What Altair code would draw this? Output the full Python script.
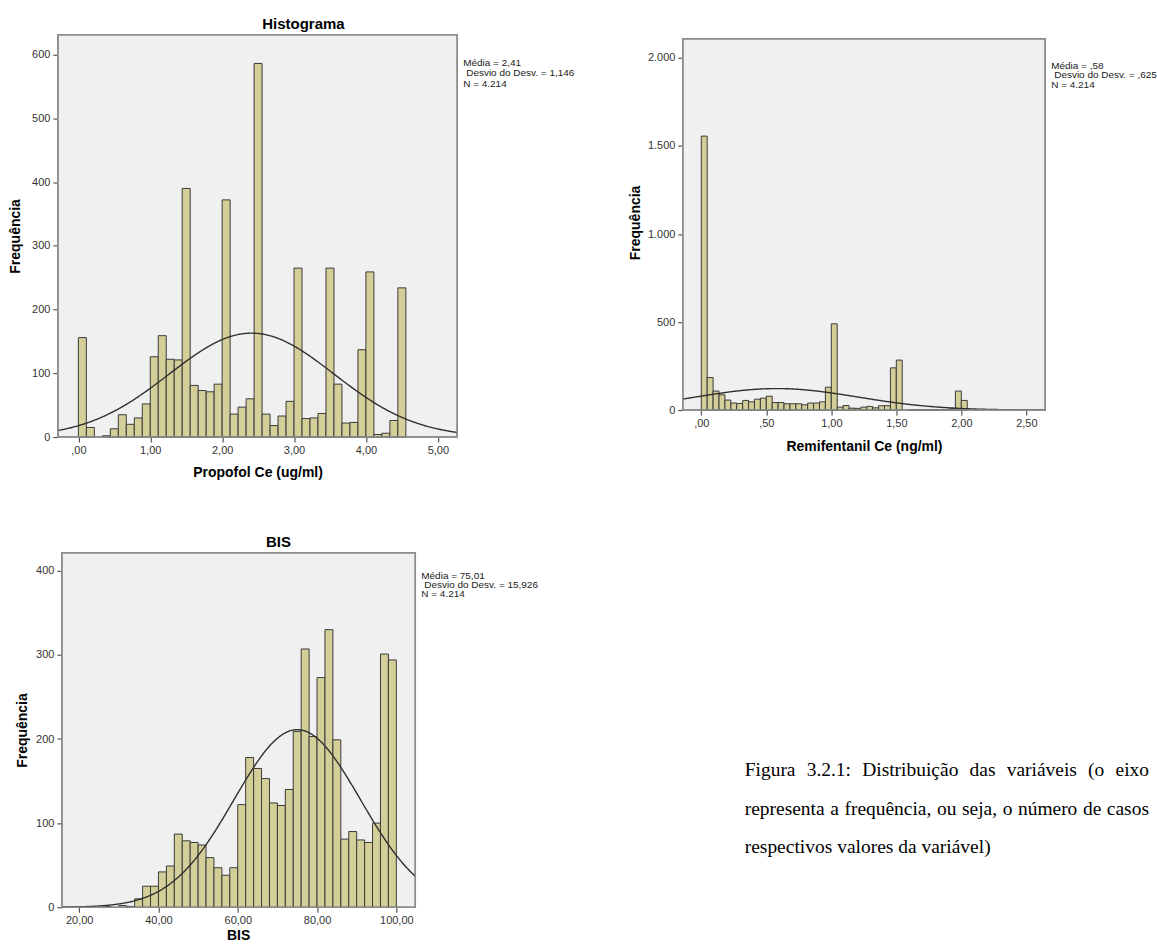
import altair as alt
import pandas as pd

N_CASES = 4214

# ---------------- Propofol Ce (ug/ml) ----------------
propofol_counts = [156, 15, 0, 2, 13, 35, 20, 30, 52, 126,
                   159, 122, 121, 390, 81, 73, 71, 83, 372, 36,
                   47, 60, 586, 36, 18, 33, 56, 265, 29, 30,
                   37, 265, 83, 22, 23, 137, 259, 4, 6, 26, 234]
propofol_bin_start = 0.0
propofol_bin_width = 1 / 9
propofol_mean = 2.41
propofol_sd = 1.146
propofol_stats = ["Média = 2,41", "Desvio do Desv. = 1,146", "N = 4.214"]
propofol_xticks = [0, 1, 2, 3, 4, 5]
propofol_yticks = [0, 100, 200, 300, 400, 500, 600]

# ---------------- Remifentanil Ce (ng/ml) ----------------
remif_counts = [1556, 185, 108, 87, 57, 40, 38, 55, 47, 62,
                68, 79, 43, 43, 36, 36, 36, 30, 40, 40,
                47, 130, 490, 17, 26, 11, 10, 17, 21, 13,
                25, 25, 240, 284, 0, 3, 1, 1, 1, 1,
                2, 3, 10, 108, 55]
remif_bin_start = 0.0
remif_bin_width = 1 / 22
remif_mean = 0.58
remif_sd = 0.625
remif_stats = ["Média = ,58", "Desvio do Desv. = ,625", "N = 4.214"]
remif_xticks = [0, 0.5, 1, 1.5, 2, 2.5]
remif_yticks = [0, 500, 1000, 1500, 2000]

# ---------------- BIS ----------------
bis_counts = [0, 0, 0, 1, 0, 2, 1, 10, 25, 25,
              42, 49, 87, 79, 77, 74, 59, 47, 38, 47,
              122, 178, 165, 153, 124, 121, 140, 209, 307, 203,
              273, 330, 199, 81, 90, 80, 77, 100, 301, 294]
bis_bin_start = 20
bis_bin_width = 2
bis_mean = 75.01
bis_sd = 15.926
bis_stats = ["Média = 75,01", "Desvio do Desv. = 15,926", "N = 4.214"]
bis_xticks = [20, 40, 60, 80, 100]
bis_yticks = [0, 100, 200, 300, 400]

caption_lines = [
    "Figura 3.2.1: Distribuição das variáveis (o eixo",
    "representa a frequência, ou seja, o número de casos",
    "respectivos valores da variável)",
]
caption_justified = [True, True, False]

# ---------------- style ----------------
SANS = "Liberation Sans"
SERIF = "Liberation Serif"
BAR_FILL = "#d4cf98"
BAR_STROKE = "#3a3a3a"
PLOT_BG = "#f0f0f0"
FRAME = "#8c8c8c"
CURVE = "#303030"
TEXT = "#222222"

X_LABEL = ("datum.value < 1 ? ',' + substring(format(datum.value, '.2f'), 2)"
           " : replace(format(datum.value, '.2f'), '.', ',')")
Y_LABEL = "replace(format(datum.value, ',d'), ',', '.')"

ONE = pd.DataFrame({"k": [0]})

# Times-metric advance widths (1/1000 em) for justifying the caption
SERIF_WIDTHS = {
    " ": 250, "(": 333, ")": 333, ",": 250, ".": 250, ":": 278,
    "1": 500, "2": 500, "3": 500, "F": 556, "D": 722,
    "a": 444, "b": 500, "c": 444, "d": 500, "e": 444, "f": 333, "g": 500,
    "h": 500, "i": 278, "j": 278, "l": 278, "m": 778, "n": 500, "o": 500,
    "p": 500, "q": 500, "r": 333, "s": 389, "t": 278, "u": 500, "v": 500,
    "x": 500, "ç": 444, "ã": 444, "á": 444, "ê": 444, "ú": 500,
}


def serif_width(word, size):
    return sum(SERIF_WIDTHS.get(ch, 500) for ch in word) * size / 1000


def bins_table(counts, start, width):
    rows = []
    for i, c in enumerate(counts):
        if c > 0:
            rows.append({"x0": start + i * width, "x1": start + (i + 1) * width, "count": c})
    return pd.DataFrame(rows)


def histogram_panel(counts, start, width, mean, sd, frame_x, frame_ymax,
                    w, h, pad_left, pad_top, xticks, yticks, xtitle,
                    stats, stats_y, ytitle_pad=9, title=None, title_xy=None,
                    anchor=False, xtitle_as_text=False):
    fw = w - pad_left
    fh = h - pad_top
    x_lo, x_hi = frame_x
    px_per_unit = fw / (x_hi - x_lo)
    x_dom = [x_lo - pad_left / px_per_unit, x_hi]
    y_dom = [0, frame_ymax * h / fh]
    xs = alt.Scale(domain=x_dom, nice=False, zero=False)
    ys = alt.Scale(domain=y_dom, nice=False, zero=False)

    frame_bg = alt.Chart(ONE).mark_rect(fill=PLOT_BG, stroke=FRAME, strokeWidth=1.5).encode(
        x=alt.value(pad_left), x2=alt.value(w), y=alt.value(pad_top), y2=alt.value(h))

    x_axis = alt.Axis(values=xticks, labelExpr=X_LABEL, domain=False, grid=False,
                      tickSize=5, tickColor="#333333", labelPadding=2,
                      labelFont=SANS, labelFontSize=11, labelColor="#333333",
                      title=None if xtitle_as_text else xtitle,
                      titleFont=SANS, titleFontSize=14, titleFontWeight="bold",
                      titleColor="black", titlePadding=11)
    y_axis = alt.Axis(values=yticks, labelExpr=Y_LABEL, domain=False, grid=False,
                      tickSize=5, tickColor="#333333", labelPadding=3,
                      labelFont=SANS, labelFontSize=11, labelColor="#333333",
                      title="Frequência", titleFont=SANS, titleFontSize=14,
                      titleFontWeight="bold", titleColor="black", titlePadding=ytitle_pad,
                      offset=-pad_left)

    bars = alt.Chart(bins_table(counts, start, width)).mark_bar(
        fill=BAR_FILL, stroke=BAR_STROKE, strokeWidth=1).encode(
        x=alt.X("x0:Q", scale=xs, axis=x_axis),
        x2="x1:Q",
        y=alt.Y("count:Q", scale=ys, axis=y_axis),
        y2=alt.datum(0),
    )

    # fitted normal curve from the stated mean and standard deviation
    peak = N_CASES * width / (sd * 2.5066282746)
    curve = alt.Chart(alt.sequence(x_lo, x_hi + 0.001, (x_hi - x_lo) / 400, as_="x")).transform_calculate(
        dens=f"{peak} * exp(-0.5 * pow((datum.x - {mean}) / {sd}, 2))"
    ).mark_line(color=CURVE, strokeWidth=1.4, clip=True).encode(
        x=alt.X("x:Q", scale=xs, axis=x_axis),
        y=alt.Y("dens:Q", scale=ys, axis=y_axis),
    )

    frame_top = alt.Chart(ONE).mark_rect(fill=None, stroke=FRAME, strokeWidth=1.5).encode(
        x=alt.value(pad_left), x2=alt.value(w), y=alt.value(pad_top), y2=alt.value(h))

    layers = [frame_bg, bars, curve, frame_top]

    indents = [0, 3, 0]
    for line, yy, ind in zip(stats, stats_y, indents):
        layers.append(alt.Chart(ONE).mark_text(
            align="left", baseline="middle", font=SANS, fontSize=10, color=TEXT).encode(
            x=alt.value(w + 6 + ind), y=alt.value(yy), text=alt.value(line)))

    if title is not None:
        layers.append(alt.Chart(ONE).mark_text(
            align="center", baseline="middle", font=SANS, fontSize=15,
            fontWeight="bold", color="black").encode(
            x=alt.value(title_xy[0]), y=alt.value(title_xy[1]), text=alt.value(title)))

    if xtitle_as_text:
        layers.append(alt.Chart(ONE).mark_text(
            align="center", baseline="bottom", font=SANS, fontSize=14,
            fontWeight="bold", color="black").encode(
            x=alt.value(pad_left + fw / 2), y=alt.value(h + 36), text=alt.value(xtitle)))

    if anchor:
        # white corner mark that fixes the page origin for the whole layout
        layers.append(alt.Chart(ONE).mark_rule(color="white", strokeWidth=1).encode(
            x=alt.value(-57), x2=alt.value(-56), y=alt.value(-33), y2=alt.value(-32)))

    return alt.layer(*layers).properties(width=w, height=h)


propofol = histogram_panel(
    propofol_counts, propofol_bin_start, propofol_bin_width, propofol_mean, propofol_sd,
    frame_x=(-0.285, 5.27), frame_ymax=631, w=400, h=403, pad_left=0, pad_top=0,
    xticks=propofol_xticks, yticks=propofol_yticks, xtitle="Propofol Ce (ug/ml)",
    stats=propofol_stats, stats_y=[28, 38.5, 49],
    title="Histograma", title_xy=(246, -11), anchor=True)

remif = histogram_panel(
    remif_counts, remif_bin_start, remif_bin_width, remif_mean, remif_sd,
    frame_x=(-0.142, 2.645), frame_ymax=2109, w=363, h=376, pad_left=0, pad_top=4,
    xticks=remif_xticks, yticks=remif_yticks, xtitle="Remifentanil Ce (ng/ml)",
    stats=remif_stats, stats_y=[31, 40.5, 50], ytitle_pad=5)

bis = histogram_panel(
    bis_counts, bis_bin_start, bis_bin_width, bis_mean, bis_sd,
    frame_x=(15.64, 104.78), frame_ymax=421.3, w=358, h=355, pad_left=4, pad_top=0,
    xticks=bis_xticks, yticks=bis_yticks, xtitle="BIS",
    stats=bis_stats, stats_y=[23, 32.3, 41], ytitle_pad=6,
    title="BIS", title_xy=(221, -11), xtitle_as_text=True)

# caption block, justified between a left and a right margin
CAP_SIZE = 19.5
CAP_LEFT = 62
CAP_RIGHT = 467
caption_layers = []
for line, yy, just in zip(caption_lines, [218, 256.5, 295], caption_justified):
    words = line.split(" ")
    if just and len(words) > 1:
        ink = sum(serif_width(wd, CAP_SIZE) for wd in words)
        gap = (CAP_RIGHT - CAP_LEFT - ink) / (len(words) - 1)
    else:
        gap = serif_width(" ", CAP_SIZE)
    xpos = CAP_LEFT
    for wd in words:
        caption_layers.append(alt.Chart(ONE).mark_text(
            align="left", baseline="middle", font=SERIF, fontSize=CAP_SIZE, color="black").encode(
            x=alt.value(xpos), y=alt.value(yy), text=alt.value(wd)))
        xpos += serif_width(wd, CAP_SIZE) + gap
caption = alt.layer(*caption_layers).properties(width=360, height=355)

chart = alt.concat(
    propofol, remif, bis, caption,
    columns=2, spacing={"row": 116, "column": 226}, bounds="flush", align="each",
).configure_view(strokeWidth=0).properties(padding=0, background="white")

chart.save("out.html", embed_options={"renderer": "svg", "actions": False})
